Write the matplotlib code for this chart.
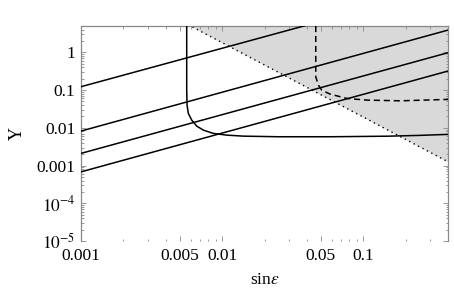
import numpy as np
import matplotlib
matplotlib.use("Agg")
import matplotlib.pyplot as plt
from matplotlib.ticker import FixedLocator, FixedFormatter, LogLocator, NullFormatter

plt.rcParams['font.family'] = ['Liberation Serif', 'DejaVu Serif']
plt.rcParams['mathtext.fontset'] = 'stix'

# straight lines: y at x = 0.001 and x = 0.4
line_x = [0.001, 0.4]
line_y = [
    [0.123, 55.0],
    [0.0082, 3.9],
    [0.0021, 0.98],
    [0.00068, 0.32],
]

# excluded (grey) region boundary
bound_x = [0.001, 0.4]
bound_y = [170.0, 0.00126]

# solid curve
solid_x = [0.005617, 0.005617, 0.00565, 0.005768, 0.006098, 0.006615, 0.00737,
           0.008678, 0.0108, 0.01416, 0.025, 0.06, 0.15, 0.25, 0.4]
solid_y = [5.0, 0.1, 0.04, 0.0241, 0.016, 0.0111, 0.00869,
           0.0071, 0.0064, 0.00602, 0.0058, 0.0058, 0.006, 0.0063, 0.0067]

# dashed curve
dash_x = [0.04618, 0.04618, 0.04819, 0.0509, 0.0583, 0.0766, 0.1062, 0.183, 0.4]
dash_y = [5.0, 0.225, 0.136, 0.100, 0.0783, 0.0602, 0.0543, 0.052, 0.0567]

xticks = [0.001, 0.005, 0.01, 0.05, 0.1]
xlabels = ['0.001', '0.005', '0.01', '0.05', '0.1']
yticks = [1e-5, 1e-4, 1e-3, 1e-2, 1e-1, 1]
ylabels = [r'$10^{-5}$', r'$10^{-4}$', '0.001', '0.01', '0.1', '1']

fig = plt.figure(figsize=(4.54, 3.0), dpi=100)
ax = fig.add_axes([0.1784, 0.1967, 0.8084, 0.7166])
ax.set_xscale('log')
ax.set_yscale('log')

ax.fill_between(bound_x, bound_y, 1e4, color='#d9d9d9', lw=0, zorder=1)
ax.plot(bound_x, bound_y, color='black', lw=1.0, dashes=(1, 2.6), zorder=2)

for ys in line_y:
    ax.plot(line_x, ys, color='black', lw=1.1, zorder=3)
ax.plot(solid_x, solid_y, color='black', lw=1.1, zorder=3)
ax.plot(dash_x, dash_y, color='black', lw=1.1, dashes=(4, 2.5), zorder=3)

ax.set_xlim(0.001, 0.4)
ax.set_ylim(1e-5, 5)

ax.xaxis.set_major_locator(FixedLocator(xticks))
ax.xaxis.set_major_formatter(FixedFormatter(xlabels))
ax.xaxis.set_minor_locator(LogLocator(base=10, subs=np.arange(2, 10)))
ax.xaxis.set_minor_formatter(NullFormatter())
ax.yaxis.set_major_locator(FixedLocator(yticks))
ax.yaxis.set_major_formatter(FixedFormatter(ylabels))
ax.yaxis.set_minor_locator(LogLocator(base=10, subs=np.arange(2, 10)))
ax.yaxis.set_minor_formatter(NullFormatter())

for s in ['left', 'right', 'top']:
    ax.spines[s].set_color('#888888')
    ax.spines[s].set_linewidth(0.9)
ax.spines['bottom'].set_visible(False)

ax.tick_params(axis='both', which='both', direction='in', color='#888888',
               labelsize=12.5, labelcolor='black', width=0.6)
ax.tick_params(axis='both', which='major', length=3.5)
ax.tick_params(axis='both', which='minor', length=1.8)
ax.tick_params(axis='y', which='both', right=True, pad=4)
ax.tick_params(axis='x', which='both', top=True, bottom=True, pad=5)

ax.set_xlabel(r'sin$\epsilon$', fontsize=12.5, labelpad=6)
ax.set_ylabel('Y', fontsize=13, labelpad=8)

fig.savefig('out.png', dpi=100)
